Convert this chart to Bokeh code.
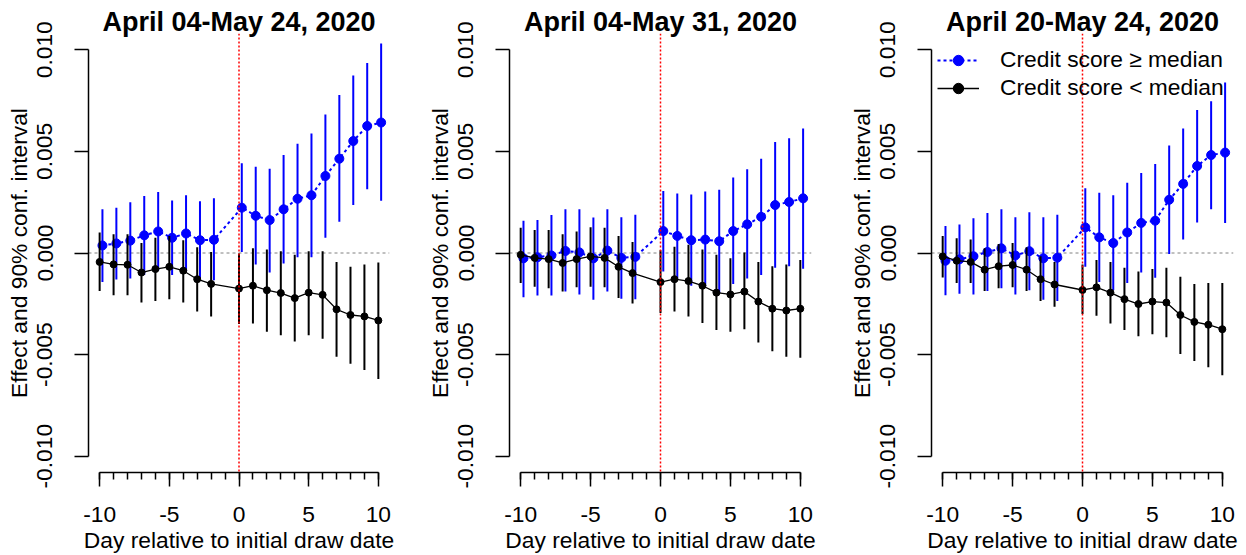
from bokeh.plotting import figure
from bokeh.models import (Range1d, FixedTicker, PrintfTickFormatter, Span,
                          Legend, LegendItem, ColumnDataSource)
from bokeh.layouts import row
from bokeh.embed import file_html
from bokeh.resources import INLINE

FONT = "Liberation Sans"

# ---------------- data ----------------
days = [-10, -9, -8, -7, -6, -5, -4, -3, -2, 0, 1, 2, 3, 4, 5, 6, 7, 8, 9, 10]
x_ticks = [-10, -5, 0, 5, 10]
y_ticks = [-0.010, -0.005, 0.000, 0.005, 0.010]
titles = ["April 04-May 24, 2020", "April 04-May 31, 2020", "April 20-May 24, 2020"]
legend_labels = ["Credit score \u2265 median", "Credit score < median"]

# Panel 1: April 04-May 24, 2020
p1_high_est = [0.00037, 0.00047, 0.00061, 0.00087, 0.00106, 0.00075, 0.00096, 0.00063, 0.00065,
               0.00223, 0.00183, 0.00162, 0.00215, 0.00267, 0.00284, 0.00379, 0.00464, 0.00551, 0.00625, 0.00642]
p1_high_lo = [-0.00143, -0.00131, -0.00126, -0.00108, -0.00086, -0.00108, -0.00091, -0.00126, -0.00134,
              0.00005, -0.00056, -0.00096, -0.00052, -0.00021, -0.00021, 0.00075, 0.00154, 0.00236, 0.00314, 0.00257]
p1_high_hi = [0.00215, 0.00223, 0.00250, 0.00281, 0.00300, 0.00258, 0.00284, 0.00255, 0.00270,
              0.00442, 0.00424, 0.00415, 0.00482, 0.00538, 0.00588, 0.00682, 0.00778, 0.00873, 0.00935, 0.01031]
p1_low_est = [-0.00044, -0.00056, -0.00058, -0.00096, -0.00079, -0.00068, -0.00087, -0.00129, -0.00152,
              -0.00175, -0.00161, -0.00183, -0.00197, -0.00222, -0.00195, -0.00206, -0.00277, -0.00305, -0.00312, -0.00332]
p1_low_lo = [-0.00187, -0.00208, -0.00208, -0.00244, -0.00236, -0.00227, -0.00243, -0.00288, -0.00312,
             -0.00349, -0.00347, -0.00387, -0.00405, -0.00435, -0.00405, -0.00422, -0.00510, -0.00545, -0.00576, -0.00620]
p1_low_hi = [0.00101, 0.00092, 0.00092, 0.00049, 0.00075, 0.00084, 0.00063, 0.00028, 0.00005,
             -0.00003, 0.00023, 0.00017, 0.00009, -0.00009, 0.00009, 0.00009, -0.00044, -0.00068, -0.00056, -0.00047]

# Panel 2: April 04-May 31, 2020
p2_high_est = [-0.00026, -0.00021, -0.00012, 0.00010, 0.00003, -0.00026, 0.00012, -0.00024, -0.00019,
               0.00108, 0.00084, 0.00063, 0.00066, 0.00058, 0.00108, 0.00141, 0.00178, 0.00236, 0.00251, 0.00269]
p2_high_lo = [-0.00218, -0.00209, -0.00209, -0.00190, -0.00204, -0.00230, -0.00190, -0.00225, -0.00227,
              -0.00091, -0.00126, -0.00161, -0.00161, -0.00195, -0.00152, -0.00126, -0.00108, -0.00073, -0.00065, -0.00077]
p2_high_hi = [0.00159, 0.00162, 0.00187, 0.00215, 0.00215, 0.00175, 0.00215, 0.00176, 0.00188,
              0.00305, 0.00293, 0.00288, 0.00302, 0.00311, 0.00372, 0.00412, 0.00464, 0.00546, 0.00564, 0.00613]
p2_low_est = [-0.00009, -0.00024, -0.00030, -0.00049, -0.00030, -0.00017, -0.00024, -0.00068, -0.00099,
              -0.00143, -0.00129, -0.00138, -0.00161, -0.00195, -0.00204, -0.00190, -0.00239, -0.00274, -0.00283, -0.00274]
p2_low_lo = [-0.00147, -0.00166, -0.00173, -0.00190, -0.00169, -0.00166, -0.00169, -0.00222, -0.00248,
             -0.00295, -0.00288, -0.00312, -0.00344, -0.00379, -0.00387, -0.00375, -0.00440, -0.00483, -0.00510, -0.00515]
p2_low_hi = [0.00124, 0.00113, 0.00113, 0.00092, 0.00106, 0.00127, 0.00124, 0.00084, 0.00054,
             0.00014, 0.00031, 0.00040, 0.00017, -0.00009, -0.00026, 0.00002, -0.00044, -0.00065, -0.00056, -0.00035]

# Panel 3: April 20-May 24, 2020
p3_high_est = [-0.00038, -0.00031, -0.00016, 0.00005, 0.00023, -0.00012, 0.00009, -0.00026, -0.00023,
               0.00126, 0.00077, 0.00049, 0.00101, 0.00148, 0.00159, 0.00262, 0.00340, 0.00428, 0.00482, 0.00494]
p3_high_lo = [-0.00208, -0.00201, -0.00204, -0.00187, -0.00173, -0.00204, -0.00183, -0.00230, -0.00236,
              -0.00068, -0.00143, -0.00183, -0.00147, -0.00096, -0.00122, -0.00005, 0.00066, 0.00150, 0.00215, 0.00148]
p3_high_hi = [0.00133, 0.00140, 0.00171, 0.00197, 0.00215, 0.00176, 0.00201, 0.00176, 0.00188,
              0.00319, 0.00297, 0.00284, 0.00346, 0.00394, 0.00438, 0.00529, 0.00613, 0.00703, 0.00747, 0.00839]
p3_low_est = [-0.00017, -0.00038, -0.00044, -0.00082, -0.00065, -0.00059, -0.00082, -0.00129, -0.00155,
              -0.00182, -0.00169, -0.00195, -0.00227, -0.00251, -0.00239, -0.00244, -0.00305, -0.00339, -0.00353, -0.00375]
p3_low_lo = [-0.00120, -0.00147, -0.00147, -0.00187, -0.00173, -0.00169, -0.00187, -0.00236, -0.00265,
             -0.00300, -0.00309, -0.00347, -0.00379, -0.00410, -0.00400, -0.00414, -0.00497, -0.00532, -0.00562, -0.00602]
p3_low_hi = [0.00084, 0.00072, 0.00066, 0.00023, 0.00044, 0.00049, 0.00028, -0.00016, -0.00044,
             -0.00056, -0.00035, -0.00044, -0.00073, -0.00091, -0.00079, -0.00073, -0.00117, -0.00152, -0.00148, -0.00148]

# ---------------- styling / layout ----------------
DODGE = 0.2          # horizontal offset of the "above median" series
HEIGHT = 555
B_LEFT, B_TOP, B_BOTTOM = 88, 33, 83
FS = "22.8px"


def make_panel(title, h_est, h_lo, h_hi, l_est, l_lo, l_hi, width, b_right, legend=False):
    p = figure(width=width, height=HEIGHT, output_backend="svg", toolbar_location=None,
               x_range=Range1d(-10.8, 10.8), y_range=Range1d(-0.0108, 0.0108),
               min_border_left=B_LEFT, min_border_right=b_right,
               min_border_top=B_TOP, min_border_bottom=B_BOTTOM)
    p.outline_line_color = None
    p.grid.visible = False
    p.background_fill_color = "white"
    p.border_fill_color = "white"

    frame_h = HEIGHT - B_TOP - B_BOTTOM

    # title
    p.title.text = title
    p.title.align = "center"
    p.title.text_font = FONT
    p.title.text_font_size = "27px"
    p.title.text_font_style = "bold"
    p.title.text_color = "black"
    p.title.standoff = -6

    # reference lines
    p.add_layout(Span(location=0, dimension="width", line_color="#808080",
                      line_dash="3 3", line_width=1, level="underlay"))
    p.add_layout(Span(location=0, dimension="height", line_color="red",
                      line_dash="2 2", line_width=1.5))

    hx = [d + DODGE for d in days]
    hs = ColumnDataSource(dict(x=hx, est=h_est, lo=h_lo, hi=h_hi))
    ls = ColumnDataSource(dict(x=days, est=l_est, lo=l_lo, hi=l_hi))

    p.segment(x0="x", y0="lo", x1="x", y1="hi", source=hs, line_color="blue", line_width=2)
    h_line = p.line("x", "est", source=hs, line_color="blue", line_width=2, line_dash="3 3")
    h_pts = p.scatter("x", "est", source=hs, size=9, fill_color="blue", line_color="blue")

    p.segment(x0="x", y0="lo", x1="x", y1="hi", source=ls, line_color="black", line_width=2)
    l_line = p.line("x", "est", source=ls, line_color="black", line_width=1.3)
    l_pts = p.scatter("x", "est", source=ls, size=7, fill_color="black", line_color="black")

    # axes
    xa = p.xaxis[0]
    xa.ticker = FixedTicker(ticks=x_ticks, minor_ticks=list(range(-10, 11)))
    xa.bounds = (-10, 10)
    xa.formatter = PrintfTickFormatter(format="%d")
    xa.axis_label = "Day relative to initial draw date"
    ya = p.yaxis[0]
    ya.ticker = FixedTicker(ticks=y_ticks, minor_ticks=[])
    ya.bounds = (-0.010, 0.010)
    ya.formatter = PrintfTickFormatter(format="%.3f")
    ya.axis_label = "Effect and 90% conf. interval"
    ya.major_label_orientation = "parallel"
    for ax in (xa, ya):
        ax.axis_line_color = "black"
        ax.axis_line_width = 1.5
        ax.major_tick_line_color = "black"
        ax.major_tick_line_width = 1.5
        ax.minor_tick_line_color = "black"
        ax.minor_tick_line_width = 1.5
        ax.major_tick_in = 0
        ax.minor_tick_in = 0
        ax.major_tick_out = 14
        ax.minor_tick_out = 7
        ax.major_label_text_font = FONT
        ax.major_label_text_font_size = FS
        ax.major_label_text_color = "black"
        ax.axis_label_text_font = FONT
        ax.axis_label_text_font_size = FS
        ax.axis_label_text_font_style = "normal"
        ax.axis_label_text_color = "black"
    xa.major_label_standoff = 20
    xa.axis_label_standoff = 2
    ya.major_label_standoff = 22
    ya.axis_label_standoff = 3

    if legend:
        lg = Legend(items=[LegendItem(label=legend_labels[0], renderers=[h_line, h_pts]),
                           LegendItem(label=legend_labels[1], renderers=[l_line, l_pts])],
                    location=(6, frame_h - 68), orientation="vertical",
                    glyph_width=42, glyph_height=26, label_height=26, label_standoff=21,
                    spacing=1, padding=0, margin=0,
                    label_text_font=FONT, label_text_font_size=FS, label_text_color="black",
                    border_line_color=None, background_fill_alpha=0)
        p.add_layout(lg)
    return p


f1 = make_panel(titles[0], p1_high_est, p1_high_lo, p1_high_hi, p1_low_est, p1_low_lo, p1_low_hi, 421, 32)
f2 = make_panel(titles[1], p2_high_est, p2_high_lo, p2_high_hi, p2_low_est, p2_low_lo, p2_low_hi, 422, 32)
f3 = make_panel(titles[2], p3_high_est, p3_high_lo, p3_high_hi, p3_low_est, p3_low_lo, p3_low_hi, 403, 13, legend=True)

layout = row(f1, f2, f3)
open("out.html", "w").write(file_html(layout, INLINE))
